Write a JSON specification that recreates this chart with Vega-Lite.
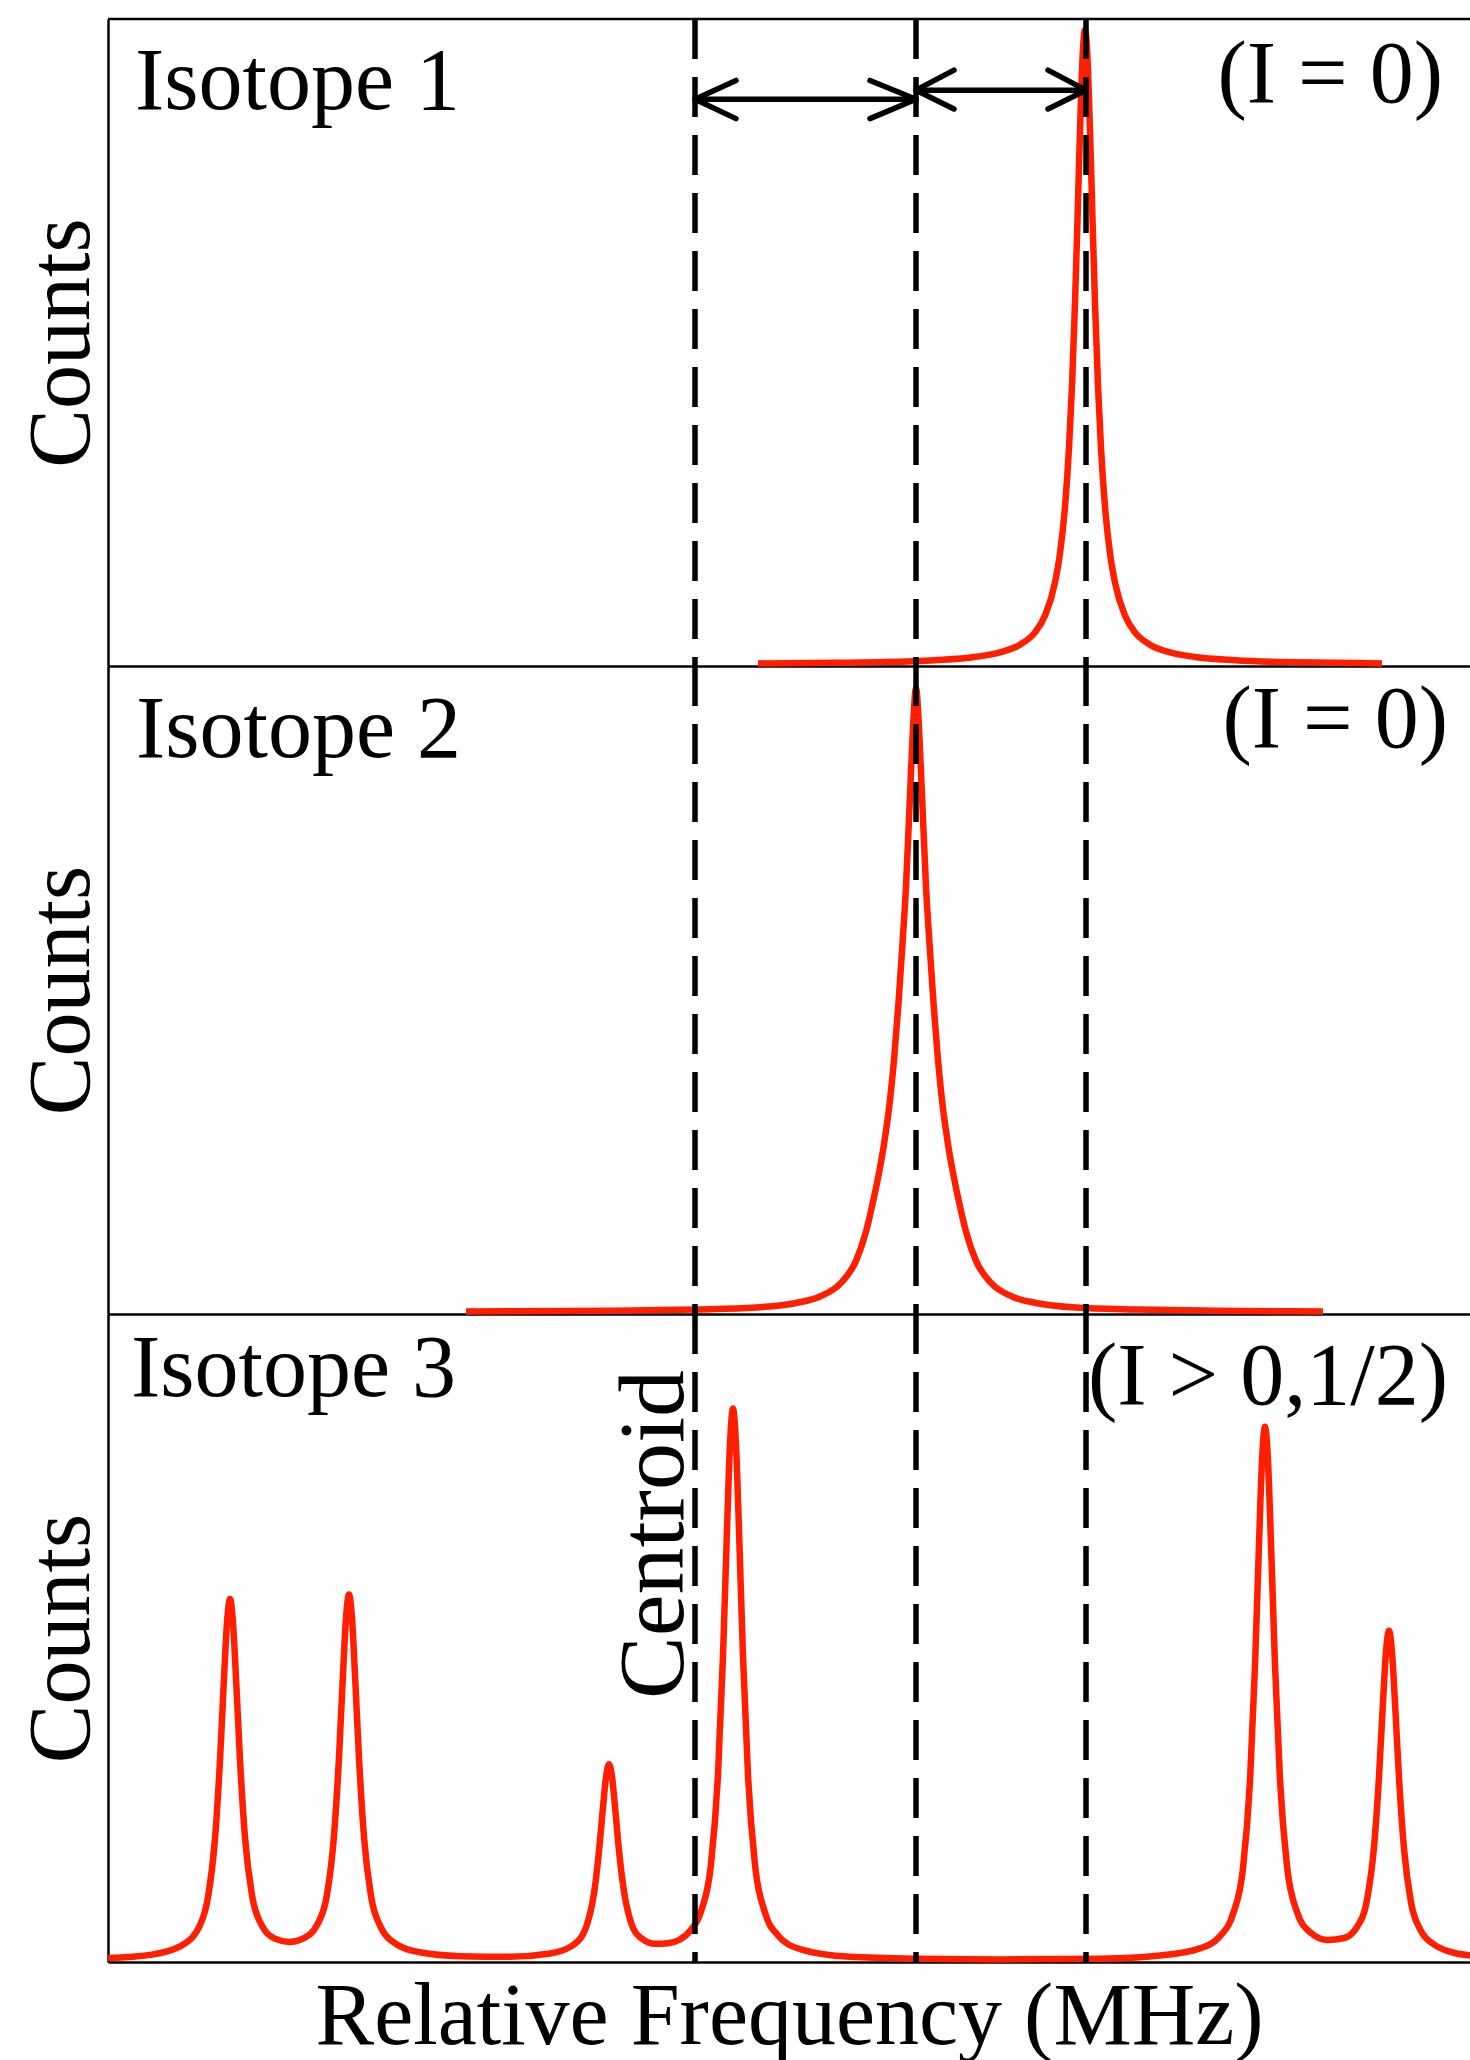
{
  "$schema": "https://vega.github.io/schema/vega-lite/v6.json",
  "padding": {"left": 18, "top": 16, "right": 0, "bottom": 0},
  "spacing": 0,
  "bounds": "flush",
  "config": {
    "view": {"stroke": null},
    "font": "Liberation Serif",
    "axis": {"grid": false, "ticks": false, "labels": false, "domainColor": "black", "domainWidth": 2.5, "titleFont": "Liberation Serif", "titleFontSize": 88, "titleFontWeight": "normal", "titleColor": "black"}
  },
  "datasets": {
    "curves": [
      {"panel": 1, "mhz": -316, "counts": 4}, {"panel": 1, "mhz": -162, "counts": 5}, {"panel": 1, "mhz": -62, "counts": 6}, {"panel": 1, "mhz": 38, "counts": 9}, {"panel": 1, "mhz": 118, "counts": 14}, {"panel": 1, "mhz": 168, "counts": 21}, {"panel": 1, "mhz": 208, "counts": 33}, {"panel": 1, "mhz": 238, "counts": 52}, {"panel": 1, "mhz": 258, "counts": 78}, {"panel": 1, "mhz": 278, "counts": 129}, {"panel": 1, "mhz": 288, "counts": 174}, {"panel": 1, "mhz": 298, "counts": 246}, {"panel": 1, "mhz": 306, "counts": 337}, {"panel": 1, "mhz": 312, "counts": 433}, {"panel": 1, "mhz": 318, "counts": 561}, {"panel": 1, "mhz": 322, "counts": 663}, {"panel": 1, "mhz": 326, "counts": 773}, {"panel": 1, "mhz": 330, "counts": 877}, {"panel": 1, "mhz": 334, "counts": 954}, {"panel": 1, "mhz": 338, "counts": 983}, {"panel": 1, "mhz": 342, "counts": 954}, {"panel": 1, "mhz": 346, "counts": 877}, {"panel": 1, "mhz": 350, "counts": 773}, {"panel": 1, "mhz": 354, "counts": 663}, {"panel": 1, "mhz": 358, "counts": 561}, {"panel": 1, "mhz": 364, "counts": 433}, {"panel": 1, "mhz": 370, "counts": 337}, {"panel": 1, "mhz": 378, "counts": 246}, {"panel": 1, "mhz": 388, "counts": 174}, {"panel": 1, "mhz": 398, "counts": 129}, {"panel": 1, "mhz": 418, "counts": 78}, {"panel": 1, "mhz": 438, "counts": 52}, {"panel": 1, "mhz": 468, "counts": 33}, {"panel": 1, "mhz": 508, "counts": 21}, {"panel": 1, "mhz": 558, "counts": 14}, {"panel": 1, "mhz": 638, "counts": 9}, {"panel": 1, "mhz": 738, "counts": 6}, {"panel": 1, "mhz": 838, "counts": 5}, {"panel": 1, "mhz": 932, "counts": 4},

      {"panel": 2, "mhz": -900, "counts": 4}, {"panel": 2, "mhz": -600, "counts": 5}, {"panel": 2, "mhz": -440, "counts": 7}, {"panel": 2, "mhz": -320, "counts": 10}, {"panel": 2, "mhz": -240, "counts": 17}, {"panel": 2, "mhz": -192, "counts": 27}, {"panel": 2, "mhz": -150, "counts": 48}, {"panel": 2, "mhz": -120, "counts": 82}, {"panel": 2, "mhz": -100, "counts": 127}, {"panel": 2, "mhz": -86, "counts": 173}, {"panel": 2, "mhz": -76, "counts": 210}, {"panel": 2, "mhz": -64, "counts": 262}, {"panel": 2, "mhz": -52, "counts": 330}, {"panel": 2, "mhz": -44, "counts": 392}, {"panel": 2, "mhz": -35, "counts": 480}, {"panel": 2, "mhz": -28, "counts": 560}, {"panel": 2, "mhz": -20, "counts": 660}, {"panel": 2, "mhz": -12, "counts": 800}, {"panel": 2, "mhz": -6, "counts": 905}, {"panel": 2, "mhz": 0, "counts": 966}, {"panel": 2, "mhz": 6, "counts": 905}, {"panel": 2, "mhz": 12, "counts": 800}, {"panel": 2, "mhz": 20, "counts": 660}, {"panel": 2, "mhz": 28, "counts": 560}, {"panel": 2, "mhz": 35, "counts": 480}, {"panel": 2, "mhz": 44, "counts": 392}, {"panel": 2, "mhz": 52, "counts": 330}, {"panel": 2, "mhz": 64, "counts": 262}, {"panel": 2, "mhz": 76, "counts": 210}, {"panel": 2, "mhz": 86, "counts": 173}, {"panel": 2, "mhz": 100, "counts": 127}, {"panel": 2, "mhz": 120, "counts": 82}, {"panel": 2, "mhz": 150, "counts": 48}, {"panel": 2, "mhz": 192, "counts": 27}, {"panel": 2, "mhz": 240, "counts": 17}, {"panel": 2, "mhz": 320, "counts": 10}, {"panel": 2, "mhz": 440, "counts": 7}, {"panel": 2, "mhz": 600, "counts": 5}, {"panel": 2, "mhz": 814, "counts": 4},

      {"panel": 3, "mhz": -1616, "counts": 6}, {"panel": 3, "mhz": -1532, "counts": 11}, {"panel": 3, "mhz": -1472, "counts": 24}, {"panel": 3, "mhz": -1432, "counts": 57}, {"panel": 3, "mhz": -1416, "counts": 100}, {"panel": 3, "mhz": -1402, "counts": 190}, {"panel": 3, "mhz": -1392, "counts": 311}, {"panel": 3, "mhz": -1384, "counts": 438}, {"panel": 3, "mhz": -1378, "counts": 524}, {"panel": 3, "mhz": -1372, "counts": 560}, {"panel": 3, "mhz": -1366, "counts": 524}, {"panel": 3, "mhz": -1360, "counts": 439}, {"panel": 3, "mhz": -1352, "counts": 312}, {"panel": 3, "mhz": -1342, "counts": 192}, {"panel": 3, "mhz": -1328, "counts": 103}, {"panel": 3, "mhz": -1308, "counts": 56}, {"panel": 3, "mhz": -1282, "counts": 36}, {"panel": 3, "mhz": -1254, "counts": 31}, {"panel": 3, "mhz": -1224, "counts": 37}, {"panel": 3, "mhz": -1198, "counts": 57}, {"panel": 3, "mhz": -1178, "counts": 104}, {"panel": 3, "mhz": -1164, "counts": 195}, {"panel": 3, "mhz": -1154, "counts": 316}, {"panel": 3, "mhz": -1146, "counts": 444}, {"panel": 3, "mhz": -1140, "counts": 531}, {"panel": 3, "mhz": -1134, "counts": 567}, {"panel": 3, "mhz": -1128, "counts": 530}, {"panel": 3, "mhz": -1122, "counts": 443}, {"panel": 3, "mhz": -1114, "counts": 315}, {"panel": 3, "mhz": -1104, "counts": 193}, {"panel": 3, "mhz": -1090, "counts": 102}, {"panel": 3, "mhz": -1070, "counts": 53}, {"panel": 3, "mhz": -1044, "counts": 30}, {"panel": 3, "mhz": -992, "counts": 15}, {"panel": 3, "mhz": -912, "counts": 9}, {"panel": 3, "mhz": -812, "counts": 8}, {"panel": 3, "mhz": -732, "counts": 13}, {"panel": 3, "mhz": -684, "counts": 27}, {"panel": 3, "mhz": -658, "counts": 58}, {"panel": 3, "mhz": -644, "counts": 106}, {"panel": 3, "mhz": -634, "counts": 171}, {"panel": 3, "mhz": -626, "counts": 239}, {"panel": 3, "mhz": -620, "counts": 285}, {"panel": 3, "mhz": -614, "counts": 305}, {"panel": 3, "mhz": -608, "counts": 286}, {"panel": 3, "mhz": -602, "counts": 240}, {"panel": 3, "mhz": -594, "counts": 172}, {"panel": 3, "mhz": -584, "counts": 109}, {"panel": 3, "mhz": -570, "counts": 61}, {"panel": 3, "mhz": -550, "counts": 37}, {"panel": 3, "mhz": -522, "counts": 28}, {"panel": 3, "mhz": -496, "counts": 29}, {"panel": 3, "mhz": -474, "counts": 34}, {"panel": 3, "mhz": -452, "counts": 48}, {"panel": 3, "mhz": -430, "counts": 78}, {"panel": 3, "mhz": -410, "counts": 151}, {"panel": 3, "mhz": -396, "counts": 289}, {"panel": 3, "mhz": -386, "counts": 473}, {"panel": 3, "mhz": -378, "counts": 667}, {"panel": 3, "mhz": -372, "counts": 799}, {"panel": 3, "mhz": -366, "counts": 854}, {"panel": 3, "mhz": -360, "counts": 798}, {"panel": 3, "mhz": -354, "counts": 666}, {"panel": 3, "mhz": -346, "counts": 472}, {"panel": 3, "mhz": -336, "counts": 288}, {"panel": 3, "mhz": -322, "counts": 150}, {"panel": 3, "mhz": -302, "counts": 76}, {"panel": 3, "mhz": -276, "counts": 41}, {"panel": 3, "mhz": -232, "counts": 20}, {"panel": 3, "mhz": -132, "counts": 8}, {"panel": 3, "mhz": 0, "counts": 5}, {"panel": 3, "mhz": 168, "counts": 4}, {"panel": 3, "mhz": 368, "counts": 5}, {"panel": 3, "mhz": 488, "counts": 10}, {"panel": 3, "mhz": 568, "counts": 21}, {"panel": 3, "mhz": 608, "counts": 40}, {"panel": 3, "mhz": 634, "counts": 74}, {"panel": 3, "mhz": 654, "counts": 145}, {"panel": 3, "mhz": 668, "counts": 279}, {"panel": 3, "mhz": 678, "counts": 457}, {"panel": 3, "mhz": 686, "counts": 645}, {"panel": 3, "mhz": 692, "counts": 773}, {"panel": 3, "mhz": 698, "counts": 826}, {"panel": 3, "mhz": 704, "counts": 773}, {"panel": 3, "mhz": 710, "counts": 646}, {"panel": 3, "mhz": 718, "counts": 458}, {"panel": 3, "mhz": 728, "counts": 281}, {"panel": 3, "mhz": 742, "counts": 148}, {"panel": 3, "mhz": 762, "counts": 77}, {"panel": 3, "mhz": 788, "counts": 46}, {"panel": 3, "mhz": 822, "counts": 34}, {"panel": 3, "mhz": 856, "counts": 37}, {"panel": 3, "mhz": 882, "counts": 54}, {"panel": 3, "mhz": 902, "counts": 96}, {"panel": 3, "mhz": 916, "counts": 177}, {"panel": 3, "mhz": 926, "counts": 286}, {"panel": 3, "mhz": 934, "counts": 401}, {"panel": 3, "mhz": 940, "counts": 479}, {"panel": 3, "mhz": 946, "counts": 511}, {"panel": 3, "mhz": 952, "counts": 478}, {"panel": 3, "mhz": 958, "counts": 400}, {"panel": 3, "mhz": 966, "counts": 284}, {"panel": 3, "mhz": 976, "counts": 175}, {"panel": 3, "mhz": 990, "counts": 92}, {"panel": 3, "mhz": 1010, "counts": 48}, {"panel": 3, "mhz": 1036, "counts": 27}, {"panel": 3, "mhz": 1068, "counts": 16}, {"panel": 3, "mhz": 1108, "counts": 10}
    ],
    "dashes": [{"mhz": -442}, {"mhz": 0}, {"mhz": 340}],
    "labels": [
      {"panel": 1, "side": "left", "mhz": -1562, "counts": 861, "text": "Isotope 1"},
      {"panel": 1, "side": "right", "mhz": 1054, "counts": 872, "text": "(I = 0)"},
      {"panel": 2, "side": "left", "mhz": -1560, "counts": 860, "text": "Isotope 2"},
      {"panel": 2, "side": "right", "mhz": 1064, "counts": 875, "text": "(I = 0)"},
      {"panel": 3, "side": "left", "mhz": -1570, "counts": 873, "text": "Isotope 3"},
      {"panel": 3, "side": "right", "mhz": 1064, "counts": 861, "text": "(I > 0,1/2)"},
      {"panel": 3, "side": "up", "mhz": -466, "counts": 406, "text": "Centroid"}
    ],
    "arrows": [
      {"x": -442, "y": 876, "x2": 0, "y2": 876},
      {"x": -442, "y": 876, "x2": -360, "y2": 905},
      {"x": -442, "y": 876, "x2": -360, "y2": 846},
      {"x": 0, "y": 876, "x2": -92, "y2": 905},
      {"x": 0, "y": 876, "x2": -92, "y2": 846},
      {"x": 0, "y": 890, "x2": 340, "y2": 890},
      {"x": 0, "y": 890, "x2": 76, "y2": 921},
      {"x": 0, "y": 890, "x2": 76, "y2": 861},
      {"x": 340, "y": 890, "x2": 264, "y2": 921},
      {"x": 340, "y": 890, "x2": 264, "y2": 861}
    ]
  },
  "vconcat": [
    {
      "width": 1362, "height": 647,
      "layer": [
        {"data": {"name": "curves"}, "transform": [{"filter": "datum.panel == 1"}],
         "mark": {"type": "line", "color": "#ff1e00", "strokeWidth": 6.5, "interpolate": "monotone"},
         "encoding": {
           "x": {"field": "mhz", "type": "quantitative", "scale": {"domain": [-1616, 1108], "nice": false, "zero": false}, "axis": {"title": null}},
           "y": {"field": "counts", "type": "quantitative", "scale": {"domain": [0, 1000], "nice": false}, "axis": {"title": "Counts", "titlePadding": 2}}}},
        {"data": {"values": [{"counts": 1000}]}, "mark": {"type": "rule", "color": "black", "strokeWidth": 2.5},
         "encoding": {"y": {"field": "counts", "type": "quantitative"}}},
        {"data": {"name": "dashes"}, "mark": {"type": "rule", "color": "black", "strokeWidth": 5.5, "strokeDash": [40, 18]},
         "encoding": {"x": {"field": "mhz", "type": "quantitative"}}},
        {"data": {"name": "arrows"}, "mark": {"type": "rule", "color": "black", "strokeWidth": 5.5, "strokeCap": "round"},
         "encoding": {"x": {"field": "x", "type": "quantitative"}, "y": {"field": "y", "type": "quantitative"}, "x2": {"field": "x2"}, "y2": {"field": "y2"}}},
        {"data": {"name": "labels"}, "transform": [{"filter": "datum.panel == 1 && datum.side == 'left'"}],
         "mark": {"type": "text", "align": "left", "baseline": "alphabetic", "font": "Liberation Serif", "fontSize": 88, "color": "black"},
         "encoding": {"x": {"field": "mhz", "type": "quantitative"}, "y": {"field": "counts", "type": "quantitative"}, "text": {"field": "text"}}},
        {"data": {"name": "labels"}, "transform": [{"filter": "datum.panel == 1 && datum.side == 'right'"}],
         "mark": {"type": "text", "align": "right", "baseline": "alphabetic", "font": "Liberation Serif", "fontSize": 88, "color": "black"},
         "encoding": {"x": {"field": "mhz", "type": "quantitative"}, "y": {"field": "counts", "type": "quantitative"}, "text": {"field": "text"}}}
      ]
    },
    {
      "width": 1362, "height": 648,
      "layer": [
        {"data": {"name": "curves"}, "transform": [{"filter": "datum.panel == 2"}],
         "mark": {"type": "line", "color": "#ff1e00", "strokeWidth": 6.5, "interpolate": "monotone"},
         "encoding": {
           "x": {"field": "mhz", "type": "quantitative", "scale": {"domain": [-1616, 1108], "nice": false, "zero": false}, "axis": {"title": null}},
           "y": {"field": "counts", "type": "quantitative", "scale": {"domain": [0, 1000], "nice": false}, "axis": {"title": "Counts", "titlePadding": 2}}}},
        {"data": {"name": "dashes"}, "mark": {"type": "rule", "color": "black", "strokeWidth": 5.5, "strokeDash": [40, 18]},
         "encoding": {"x": {"field": "mhz", "type": "quantitative"}}},
        {"data": {"name": "labels"}, "transform": [{"filter": "datum.panel == 2 && datum.side == 'left'"}],
         "mark": {"type": "text", "align": "left", "baseline": "alphabetic", "font": "Liberation Serif", "fontSize": 88, "color": "black"},
         "encoding": {"x": {"field": "mhz", "type": "quantitative"}, "y": {"field": "counts", "type": "quantitative"}, "text": {"field": "text"}}},
        {"data": {"name": "labels"}, "transform": [{"filter": "datum.panel == 2 && datum.side == 'right'"}],
         "mark": {"type": "text", "align": "right", "baseline": "alphabetic", "font": "Liberation Serif", "fontSize": 88, "color": "black"},
         "encoding": {"x": {"field": "mhz", "type": "quantitative"}, "y": {"field": "counts", "type": "quantitative"}, "text": {"field": "text"}}}
      ]
    },
    {
      "width": 1362, "height": 648,
      "layer": [
        {"data": {"name": "curves"}, "transform": [{"filter": "datum.panel == 3"}],
         "mark": {"type": "line", "color": "#ff1e00", "strokeWidth": 6.5, "interpolate": "monotone"},
         "encoding": {
           "x": {"field": "mhz", "type": "quantitative", "scale": {"domain": [-1616, 1108], "nice": false, "zero": false}, "axis": {"title": "Relative Frequency (MHz)", "titlePadding": 11}},
           "y": {"field": "counts", "type": "quantitative", "scale": {"domain": [0, 1000], "nice": false}, "axis": {"title": "Counts", "titlePadding": 2}}}},
        {"data": {"name": "dashes"}, "mark": {"type": "rule", "color": "black", "strokeWidth": 5.5, "strokeDash": [40, 18]},
         "encoding": {"x": {"field": "mhz", "type": "quantitative"}}},
        {"data": {"name": "labels"}, "transform": [{"filter": "datum.panel == 3 && datum.side == 'left'"}],
         "mark": {"type": "text", "align": "left", "baseline": "alphabetic", "font": "Liberation Serif", "fontSize": 88, "color": "black"},
         "encoding": {"x": {"field": "mhz", "type": "quantitative"}, "y": {"field": "counts", "type": "quantitative"}, "text": {"field": "text"}}},
        {"data": {"name": "labels"}, "transform": [{"filter": "datum.panel == 3 && datum.side == 'right'"}],
         "mark": {"type": "text", "align": "right", "baseline": "alphabetic", "font": "Liberation Serif", "fontSize": 88, "color": "black"},
         "encoding": {"x": {"field": "mhz", "type": "quantitative"}, "y": {"field": "counts", "type": "quantitative"}, "text": {"field": "text"}}},
        {"data": {"name": "labels"}, "transform": [{"filter": "datum.panel == 3 && datum.side == 'up'"}],
         "mark": {"type": "text", "align": "left", "baseline": "alphabetic", "angle": 270, "font": "Liberation Serif", "fontSize": 94, "color": "black"},
         "encoding": {"x": {"field": "mhz", "type": "quantitative"}, "y": {"field": "counts", "type": "quantitative"}, "text": {"field": "text"}}}
      ]
    }
  ]
}
